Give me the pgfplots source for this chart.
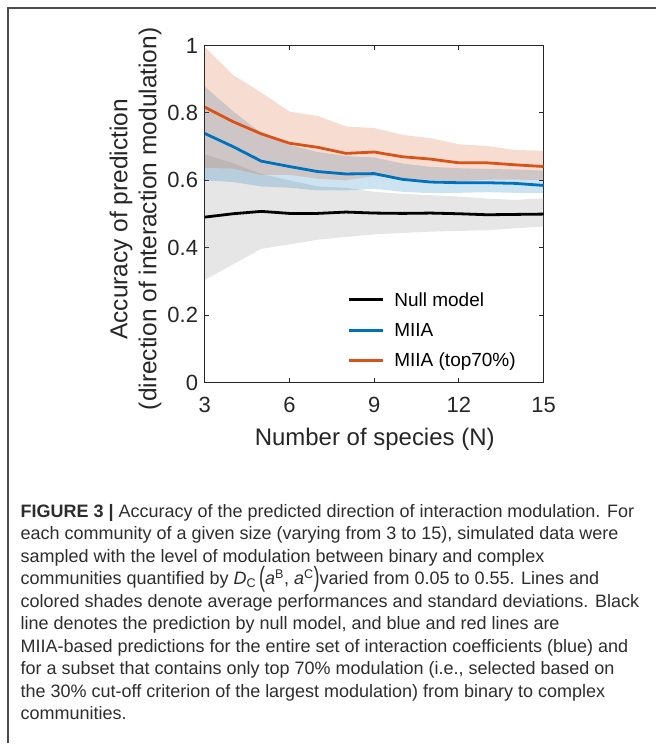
\documentclass[border=0pt]{standalone}
\usepackage{fontspec}
\setmainfont{Liberation Sans}
\newfontfamily\labfont{Liberation Sans}
\newfontfamily\capfont{Liberation Sans}
\usepackage{graphicx}
\usepackage{pgfplots}
\pgfplotsset{compat=1.18}
\usepackage{pgfplotstable}
\usepgfplotslibrary{fillbetween}
\definecolor{mblue}{RGB}{0,114,189}
\definecolor{morange}{RGB}{217,83,25}
\definecolor{axgray}{RGB}{38,38,38}
\definecolor{capgray}{RGB}{45,45,45}

% N  mean  lower  upper
\pgfplotstableread{
N  m     lo    up
3  0.491 0.305 0.677
4  0.501 0.351 0.651
5  0.508 0.397 0.619
6  0.502 0.410 0.600
7  0.502 0.424 0.582
8  0.506 0.432 0.578
9  0.503 0.440 0.566
10 0.502 0.444 0.560
11 0.503 0.448 0.556
12 0.501 0.450 0.552
13 0.498 0.452 0.546
14 0.499 0.458 0.542
15 0.500 0.463 0.547
}\nulltab

\pgfplotstableread{
N  m     lo    up
3  0.739 0.600 0.878
4  0.700 0.595 0.805
5  0.657 0.582 0.740
6  0.641 0.578 0.705
7  0.626 0.570 0.684
8  0.619 0.570 0.672
9  0.620 0.575 0.668
10 0.603 0.566 0.650
11 0.595 0.562 0.640
12 0.593 0.563 0.636
13 0.593 0.565 0.634
14 0.591 0.563 0.632
15 0.585 0.562 0.629
}\miiatab

\pgfplotstableread{
N  m     lo    up
3  0.817 0.637 0.995
4  0.774 0.635 0.913
5  0.738 0.616 0.860
6  0.710 0.616 0.804
7  0.698 0.605 0.791
8  0.680 0.600 0.760
9  0.684 0.613 0.755
10 0.670 0.605 0.735
11 0.663 0.601 0.725
12 0.652 0.597 0.707
13 0.652 0.602 0.702
14 0.646 0.602 0.690
15 0.641 0.601 0.688
}\toptab

\newcommand{\capline}[2]{\node[anchor=base west, inner sep=0pt, text=capgray,
  font=\capfont\fontsize{18bp}{21bp}\selectfont] at (20.5bp,-#1bp) {#2};}

\begin{document}
\begin{tikzpicture}
\path (0,0) rectangle (657bp,-744bp);
\draw[line width=1.2bp, black!70] (8bp,-744bp) -- (8bp,-8bp) -- (657bp,-8bp);

\begin{axis}[
  at={(205bp,-383bp)}, anchor=south west,
  scale only axis, width=339bp, height=337.5bp,
  xmin=3, xmax=15, ymin=0, ymax=1,
  xtick={3,6,9,12,15}, ytick={0,0.2,0.4,0.6,0.8,1},
  tick align=inside, major tick length=4.5bp,
  axis line style={axgray, line width=0.9bp},
  every tick/.style={axgray, line width=0.9bp},
  /pgf/number format/assume math mode=true,
  ticklabel style={font=\labfont\fontsize{22bp}{25bp}\selectfont, text=axgray},
  yticklabel style={anchor=east, inner sep=0pt, xshift=-6.6bp},
  xticklabel style={anchor=base, inner sep=0pt, yshift=-29.7bp},
  legend style={at={(axis description cs:0.4218,0.2667)}, anchor=north west,
    draw=none, fill=none, inner sep=0pt, outer sep=0pt,
    font=\labfont\fontsize{19bp}{22bp}\selectfont, text=black,
    row sep=12.8bp, column sep=9.7bp,
    nodes={inner sep=0pt, text height=13.5bp, text depth=4bp}},
  legend cell align=left,
  legend image code/.code={\draw[#1, line width=3bp] (0bp,1.75bp) -- (34bp,1.75bp);},
]
% null model band
\addplot[name path=nlo, draw=none, forget plot] table[x=N, y=lo] {\nulltab};
\addplot[name path=nup, draw=none, forget plot] table[x=N, y=up] {\nulltab};
\addplot[fill=black!50, fill opacity=0.2, draw=none, forget plot] fill between[of=nup and nlo];
% MIIA band
\addplot[name path=blo, draw=none, forget plot] table[x=N, y=lo] {\miiatab};
\addplot[name path=bup, draw=none, forget plot] table[x=N, y=up] {\miiatab};
\addplot[fill=mblue, fill opacity=0.2, draw=none, forget plot] fill between[of=bup and blo];
% MIIA top70 band
\addplot[name path=olo, draw=none, forget plot] table[x=N, y=lo] {\toptab};
\addplot[name path=oup, draw=none, forget plot] table[x=N, y=up] {\toptab};
\addplot[fill=morange, fill opacity=0.2, draw=none, forget plot] fill between[of=oup and olo];
% mean lines
\addplot[black, line width=2.8bp] table[x=N, y=m] {\nulltab};
\addlegendentry{Null model}
\addplot[mblue, line width=2.8bp] table[x=N, y=m] {\miiatab};
\addlegendentry{MIIA}
\addplot[morange, line width=2.8bp] table[x=N, y=m] {\toptab};
\addlegendentry{MIIA (top70\%)}
\end{axis}

\node[anchor=base, inner sep=0pt, text=axgray, font=\labfont\fontsize{24bp}{27bp}\selectfont]
  at (375bp,-446bp) {Number of species (N)};
\node[rotate=90, anchor=base, inner sep=0pt, text=axgray, font=\labfont\fontsize{24.5bp}{27bp}\selectfont]
  at (127.5bp,-219.5bp) {Accuracy of prediction};
\node[rotate=90, anchor=base, inner sep=0pt, text=axgray, font=\labfont\fontsize{24.5bp}{27bp}\selectfont]
  at (156.5bp,-219bp) {(direction of interaction modulation)};

\capline{517.5}{\textbf{FIGURE 3 |} Accuracy of the predicted direction of interaction modulation. For}
\capline{540}{each community of a given size (varying from 3 to 15), simulated data were}
\capline{562.5}{sampled with the level of modulation between binary and complex}
\capline{585}{communities quantified by \textit{D}\textsubscript{C}\,\raisebox{-0.12em}{\scalebox{1}[1.55]{(}}\textit{a}\textsuperscript{B}, \textit{a}\textsuperscript{C}\raisebox{-0.12em}{\scalebox{1}[1.55]{)}}varied from 0.05 to 0.55. Lines and}
\capline{608}{colored shades denote average performances and standard deviations. Black}
\capline{630.5}{line denotes the prediction by null model, and blue and red lines are}
\capline{653}{MIIA-based predictions for the entire set of interaction coefficients (blue) and}
\capline{675.5}{for a subset that contains only top 70\% modulation (i.e., selected based on}
\capline{698}{the 30\% cut-off criterion of the largest modulation) from binary to complex}
\capline{720}{communities.}
\end{tikzpicture}
\end{document}
